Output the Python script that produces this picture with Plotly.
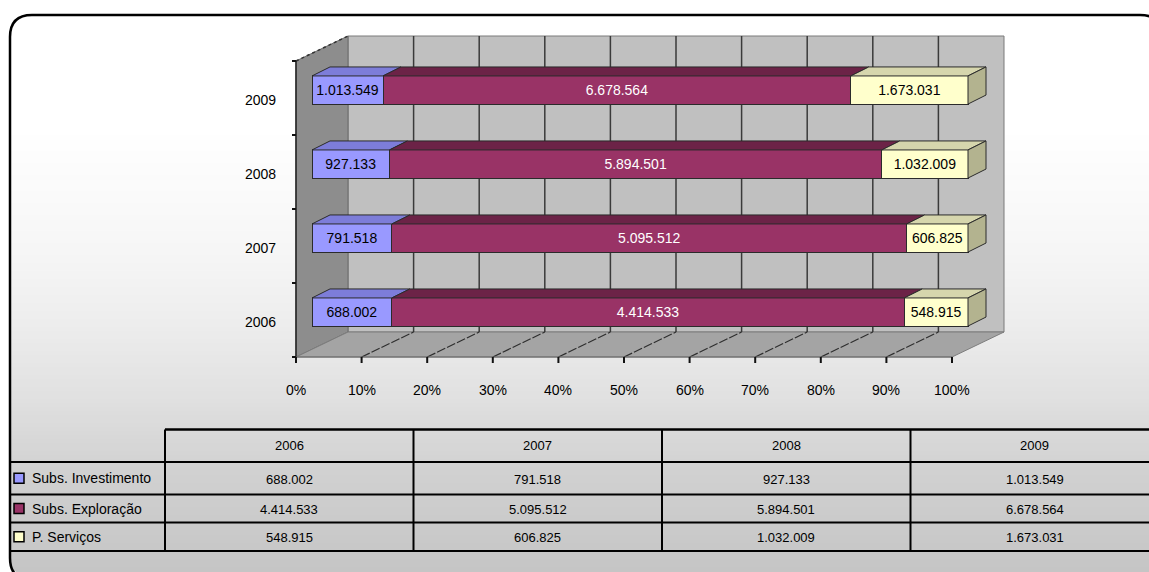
import plotly.graph_objects as go

W, H = 1149, 572
FONT = "Liberation Sans, Arial, sans-serif"

# ---------------- data ----------------
categories = ["2006", "2007", "2008", "2009"]
series_names = ["Subs. Investimento", "Subs. Exploração", "P. Serviços"]
subs_investimento = [688002, 791518, 927133, 1013549]
subs_exploracao = [4414533, 5095512, 5894501, 6678564]
p_servicos = [548915, 606825, 1032009, 1673031]
pct_ticks = [0, 10, 20, 30, 40, 50, 60, 70, 80, 90, 100]
pct_tick_labels = [f"{t}%" for t in pct_ticks]

series_values = [subs_investimento, subs_exploracao, p_servicos]

# ---------------- styles ----------------
front_colors = ["#9999ff", "#993366", "#ffffcc"]
top_colors = ["#7d7dd9", "#6c2347", "#d6d6ad"]
side_colors = ["#6b6bbf", "#571c39", "#b3b38f"]
label_colors = ["#000000", "#ffffff", "#000000"]
EDGE = "#2b2b2b"

# pixel geometry of the 3-D frame (axis units map linearly to pixels)
X0, XS = 312.0, 6.56      # px of 0 % on bar front face, px per percent
Y0, YS = 312.0, 74.0      # px of first category centre, px per category
BAR_W = 0.38
BAR_DX, BAR_DY = 18.0, -9.0      # bar depth (px)
FRONT_DX, FRONT_DY = -16.0, 8.0  # front plane relative to bar front (px)
BACK_DX, BACK_DY = 36.0, -17.0   # back wall relative to bar front (px)


def U(px):
    return (px - X0) / XS


def V(py):
    return (Y0 - py) / YS


def du(dpx):
    return dpx / XS


def dv(dpy):
    return -dpy / YS


def fmt(v):
    return f"{v:,}".replace(",", ".")


idx = list(range(len(categories)))
FXU, FYU = du(FRONT_DX), dv(FRONT_DY)
BXU, BYU = du(BACK_DX), dv(BACK_DY)
LO, HI = -0.5, len(categories) - 0.5

shapes = []
annotations = []

# ---------------- background gradient inside frame ----------------
FR_L, FR_T, FR_R, FR_B, FR_RAD = 10.0, 15.0, 1162.0, 580.0, 22.0
grad_stops = [(15, 255), (130, 255), (250, 246), (330, 236), (400, 224),
              (470, 209), (580, 196)]


def grey_at(py):
    for (a, ga), (b, gb) in zip(grad_stops[:-1], grad_stops[1:]):
        if a <= py <= b:
            g = ga + (gb - ga) * (py - a) / (b - a)
            return int(round(g))
    return grad_stops[-1][1]


step = 4.0
py = FR_T
while py < FR_B:
    g = grey_at(py + step / 2)
    xl = FR_L
    mid = py + step / 2
    if mid > FR_B - FR_RAD:
        d = mid - (FR_B - FR_RAD)
        d = min(d, FR_RAD)
        xl = FR_L + FR_RAD - (FR_RAD ** 2 - d ** 2) ** 0.5
    shapes.append(dict(type="rect", xref="x", yref="y", layer="below",
                       x0=U(xl), x1=U(FR_R), y0=V(py), y1=V(py + step + 0.6),
                       fillcolor=f"rgb({g},{g},{g})", line=dict(width=0)))
    py += step

# ---------------- walls / floor ----------------
# back wall
shapes.append(dict(type="rect", xref="x", yref="y", layer="below",
                   x0=0 + BXU, x1=100 + BXU, y0=LO + BYU, y1=HI + BYU,
                   fillcolor="#c0c0c0", line=dict(color="#7a7a7a", width=1)))
# left wall
shapes.append(dict(type="path", xref="x", yref="y", layer="below",
                   path=(f"M {0+FXU},{LO+FYU} L {0+FXU},{HI+FYU} "
                         f"L {0+BXU},{HI+BYU} L {0+BXU},{LO+BYU} Z"),
                   fillcolor="#8d8d8d", line=dict(color="#6a6a6a", width=1)))
# floor
shapes.append(dict(type="path", xref="x", yref="y", layer="below",
                   path=(f"M {0+FXU},{LO+FYU} L {100+FXU},{LO+FYU} "
                         f"L {100+BXU},{LO+BYU} L {0+BXU},{LO+BYU} Z"),
                   fillcolor="#a4a4a4", line=dict(color="#7d7d7d", width=1)))
# back wall grid lines + floor diagonals
for p in pct_ticks[1:-1]:
    shapes.append(dict(type="line", xref="x", yref="y", layer="below",
                       x0=p + BXU, x1=p + BXU, y0=LO + BYU, y1=HI + BYU,
                       line=dict(color="#3a3a3a", width=1.5)))
    shapes.append(dict(type="line", xref="x", yref="y", layer="below",
                       x0=p + FXU, x1=p + BXU, y0=LO + FYU, y1=LO + BYU,
                       line=dict(color="#2e2e2e", width=1.2, dash="9px,2px")))
# left wall top edge (dotted)
shapes.append(dict(type="line", xref="x", yref="y", layer="below",
                   x0=0 + FXU, x1=0 + BXU, y0=HI + FYU, y1=HI + BYU,
                   line=dict(color="#333333", width=1.5, dash="dot")))
# front vertical (category) axis
shapes.append(dict(type="line", xref="x", yref="y", layer="below",
                   x0=FXU, x1=FXU, y0=LO + FYU, y1=HI + FYU,
                   line=dict(color="#222222", width=1.5)))
for b in [i - 0.5 for i in idx] + [HI]:
    shapes.append(dict(type="line", xref="x", yref="y", layer="below",
                       x0=FXU - du(4), x1=FXU, y0=b + FYU, y1=b + FYU,
                       line=dict(color="#111111", width=2)))
# front horizontal (value) axis
shapes.append(dict(type="line", xref="x", yref="y", layer="below",
                   x0=0 + FXU, x1=100 + FXU, y0=LO + FYU, y1=LO + FYU,
                   line=dict(color="#6a6a6a", width=1)))
for p, lab in zip(pct_ticks, pct_tick_labels):
    shapes.append(dict(type="line", xref="x", yref="y", layer="below",
                       x0=p + FXU, x1=p + FXU, y0=LO + FYU, y1=LO + FYU + dv(6),
                       line=dict(color="#111111", width=2)))
    annotations.append(dict(x=p + FXU, y=V(390), xref="x", yref="y",
                            text=lab, showarrow=False,
                            font=dict(family=FONT, size=14, color="#000000")))

# category labels
for i, c in zip(idx, categories):
    annotations.append(dict(x=U(278), y=i + dv(10), xref="x", yref="y",
                            text=c, showarrow=False, xanchor="right",
                            font=dict(family=FONT, size=14, color="#000000")))

# ---------------- bars (front faces) ----------------
fig = go.Figure()
for k, (name, vals) in enumerate(zip(series_names, series_values)):
    fig.add_trace(go.Bar(
        y=idx, x=vals, orientation="h", name=name, width=BAR_W,
        marker=dict(color=front_colors[k], line=dict(color=EDGE, width=1)),
        text=[fmt(v) for v in vals], textposition="inside",
        insidetextanchor="middle", constraintext="none",
        textfont=dict(family=FONT, size=14, color=label_colors[k]),
        showlegend=False, hoverinfo="skip"))

# ---------------- 3-D top and side faces ----------------
totals = [sum(s[i] for s in series_values) for i in idx]
ddx, ddy = du(BAR_DX), dv(BAR_DY)
cum = [0.0] * len(idx)
for k, vals in enumerate(series_values):
    xs, ys = [], []
    for i in idx:
        c0 = cum[i]
        c1 = c0 + 100.0 * vals[i] / totals[i]
        yt = i + BAR_W / 2
        xs += [c0, c1, c1 + ddx, c0 + ddx, c0, None]
        ys += [yt, yt, yt + ddy, yt + ddy, yt, None]
        cum[i] = c1
    fig.add_trace(go.Scatter(x=xs, y=ys, mode="lines", fill="toself",
                             fillcolor=top_colors[k],
                             line=dict(color=EDGE, width=1),
                             showlegend=False, hoverinfo="skip"))
# right side face of the last segment
xs, ys = [], []
for i in idx:
    r = cum[i]
    yb, yt = i - BAR_W / 2, i + BAR_W / 2
    xs += [r, r + ddx, r + ddx, r, r, None]
    ys += [yb, yb + ddy, yt + ddy, yt, yb, None]
fig.add_trace(go.Scatter(x=xs, y=ys, mode="lines", fill="toself",
                         fillcolor=side_colors[-1],
                         line=dict(color=EDGE, width=1),
                         showlegend=False, hoverinfo="skip"))

# ---------------- data table ----------------
TBL_TOP = 429.5
ROW_Y = [462.0, 494.5, 522.5, 551.0]
COL_X0, COL_W = 165.0, 248.5
ncol = len(categories)
col_edges = [COL_X0 + COL_W * j for j in range(ncol + 1)]

shapes.append(dict(type="line", xref="x", yref="y", x0=U(COL_X0), x1=U(W + 20),
                   y0=V(TBL_TOP), y1=V(TBL_TOP),
                   line=dict(color="#000000", width=2.5)))
for ry in ROW_Y:
    shapes.append(dict(type="line", xref="x", yref="y", x0=U(FR_L), x1=U(W + 20),
                       y0=V(ry), y1=V(ry), line=dict(color="#000000", width=2)))
for cx in col_edges[:-1]:
    shapes.append(dict(type="line", xref="x", yref="y", x0=U(cx), x1=U(cx),
                       y0=V(TBL_TOP), y1=V(ROW_Y[-1]),
                       line=dict(color="#000000", width=2)))

hdr_y = (TBL_TOP + ROW_Y[0]) / 2
for j, c in enumerate(categories):
    annotations.append(dict(x=U(COL_X0 + COL_W * (j + 0.5)), y=V(hdr_y),
                            xref="x", yref="y", text=c, showarrow=False,
                            font=dict(family=FONT, size=13, color="#000000")))
for k, (name, vals) in enumerate(zip(series_names, series_values)):
    ry = (ROW_Y[k] + ROW_Y[k + 1]) / 2
    shapes.append(dict(type="rect", xref="x", yref="y",
                       x0=U(14), x1=U(24), y0=V(ry - 5), y1=V(ry + 5),
                       fillcolor=front_colors[k],
                       line=dict(color="#000000", width=1.5)))
    annotations.append(dict(x=U(30), y=V(ry), xref="x", yref="y", text=name,
                            showarrow=False, xanchor="left",
                            font=dict(family=FONT, size=14, color="#000000")))
    for j in range(ncol):
        annotations.append(dict(x=U(COL_X0 + COL_W * (j + 0.5)), y=V(ry + 1),
                                xref="x", yref="y", text=fmt(vals[j]),
                                showarrow=False,
                                font=dict(family=FONT, size=13, color="#000000")))

# ---------------- outer rounded frame ----------------
r = FR_RAD
frame = (f"M {U(FR_L)},{V(FR_T + r)} Q {U(FR_L)},{V(FR_T)} {U(FR_L + r)},{V(FR_T)} "
         f"L {U(FR_R - r)},{V(FR_T)} Q {U(FR_R)},{V(FR_T)} {U(FR_R)},{V(FR_T + r)} "
         f"L {U(FR_R)},{V(FR_B - r)} Q {U(FR_R)},{V(FR_B)} {U(FR_R - r)},{V(FR_B)} "
         f"L {U(FR_L + r)},{V(FR_B)} Q {U(FR_L)},{V(FR_B)} {U(FR_L)},{V(FR_B - r)} Z")
shapes.append(dict(type="path", xref="x", yref="y", path=frame,
                   line=dict(color="#000000", width=2.5)))

fig.update_layout(
    width=W, height=H, margin=dict(l=0, r=0, t=0, b=0),
    paper_bgcolor="#ffffff", plot_bgcolor="rgba(0,0,0,0)",
    barmode="stack", barnorm="percent",
    xaxis=dict(visible=False, range=[U(0), U(W)], fixedrange=True),
    yaxis=dict(visible=False, range=[V(H), V(0)], fixedrange=True),
    shapes=shapes, annotations=annotations, showlegend=False,
    font=dict(family=FONT),
)

fig.write_html("out.html")
